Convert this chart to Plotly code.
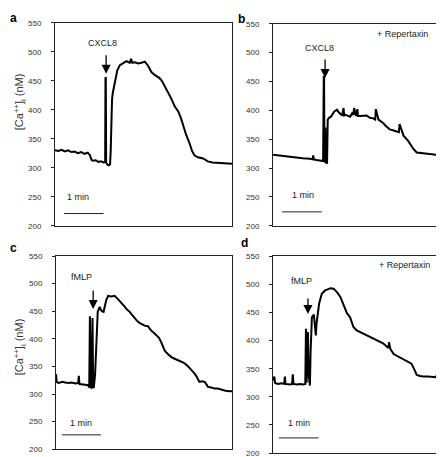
import plotly.graph_objects as go

# ---------------- data (time in s, [Ca++]i in nM) ----------------
a_time = [0, 5, 10, 15, 20, 25, 30, 35, 40, 45, 50, 53, 56, 58, 62, 66, 70, 74, 76.5, 77,
          77.5, 78, 80, 82, 84, 85, 86, 87, 88, 90, 92, 95, 99, 104, 109, 112, 114, 116, 118, 122,
          127, 132, 137, 142, 147, 152, 159, 163, 167, 172, 177, 183, 188, 192, 195, 200, 205, 209, 213, 218,
          226, 233, 240, 250, 260, 270]
a_ca = [330, 329, 331, 328, 330, 327, 328, 325, 327, 324, 326, 322, 313, 312, 313, 310, 311, 309, 310, 456,
        455, 309, 305, 304, 306, 330, 390, 417, 428, 440, 456, 468, 477, 481, 484, 482, 481, 488, 481, 482,
        480, 481, 483, 476, 465, 460, 455, 450, 442, 431, 420, 405, 397, 386, 374, 357, 343, 329, 321, 318,
        316, 311, 309, 308, 308, 307]

b_time = [0, 15, 30, 45, 56, 60, 61, 62, 66, 72, 76, 77, 77.5, 78, 79, 79.5, 80, 82, 83, 85,
          88, 93, 97, 100, 102, 105, 107, 108, 110, 114, 117, 120, 122, 123, 126, 128, 129, 132, 137, 142,
          147, 152, 155, 156, 160, 167, 172, 177, 183, 188, 191, 192, 198, 205, 213, 218, 228, 238, 248, 258,
          270]
b_ca = [323, 321, 318, 317, 316, 315, 322, 315, 314, 313, 312, 458, 458, 312, 311, 370, 310, 308, 384, 387,
        389, 398, 401, 396, 394, 391, 404, 391, 392, 390, 389, 395, 392, 404, 390, 402, 390, 390, 391, 391,
        387, 386, 384, 402, 384, 378, 372, 367, 365, 363, 362, 376, 356, 347, 333, 327, 326, 325, 323, 321,
        318]

c_time = [0, 1, 4, 10, 14, 20, 24, 30, 34, 35, 36, 39, 45, 49, 51, 52, 53, 54, 55, 56,
          57, 58, 60, 62, 64, 67, 69, 71, 73, 77, 80, 85, 90, 95, 100, 105, 109, 113, 117, 120,
          124, 128, 132, 136, 141, 146, 150, 154, 158, 161, 164, 167, 172, 177, 182, 187, 192, 197, 202, 208,
          212, 215, 218, 220, 224, 228, 231, 233, 238, 243, 248, 253, 260, 267, 270]
c_ca = [336, 322, 320, 322, 321, 320, 321, 319, 320, 333, 318, 318, 317, 316, 312, 441, 312, 310, 312, 438,
        313, 311, 336, 404, 449, 458, 452, 450, 449, 470, 478, 477, 478, 472, 466, 459, 453, 449, 443, 438,
        433, 429, 426, 424, 423, 415, 411, 407, 402, 395, 386, 378, 372, 367, 364, 361, 359, 356, 351, 344,
        338, 333, 326, 322, 323, 322, 317, 313, 312, 310, 310, 308, 306, 305, 305]

d_time = [0, 2, 3, 4, 8, 12, 17, 18, 19, 26, 29, 30, 31, 36, 41, 46, 49, 50, 51, 52,
          53, 54, 55, 56, 57, 59, 62, 64, 65, 66, 67, 70, 74, 79, 83, 87, 92, 97, 102, 107,
          112, 117, 122, 127, 132, 137, 142, 147, 152, 157, 162, 167, 172, 175, 176, 178, 183, 188, 193, 198,
          203, 210, 215, 218, 223, 228, 235, 243, 247, 249, 250, 251, 253, 258, 263, 266, 267, 270]
d_ca = [329, 336, 325, 324, 323, 324, 323, 336, 323, 322, 323, 340, 323, 322, 323, 322, 323, 421, 325, 398,
        415, 340, 322, 320, 380, 441, 446, 420, 409, 430, 438, 466, 483, 489, 491, 493, 492, 486, 478, 463,
        449, 441, 424, 418, 415, 412, 410, 407, 404, 401, 398, 395, 390, 387, 397, 385, 376, 373, 370, 367,
        364, 359, 347, 339, 337, 336, 336, 336, 335, 340, 328, 316, 334, 330, 332, 328, 335, 328]

panel_letters = ["a", "b", "c", "d"]
stimuli = ["CXCL8", "CXCL8", "fMLP", "fMLP"]
y_ticks = [200, 250, 300, 350, 400, 450, 500, 550]
scale_bar_len = 60  # 1 min

series = [(a_time, a_ca), (b_time, b_ca), (c_time, c_ca), (d_time, d_ca)]

# ---------------- layout geometry ----------------
W, H = 444, 457
# (left, right, top, bottom) in pixels
boxes = [(47, 224, 11, 218), (265, 443, 12, 218), (48, 224, 249, 446), (265, 443, 249, 450)]

fig = go.Figure()
FONT = "Liberation Sans, Arial, sans-serif"

layout = dict(width=W, height=H, margin=dict(l=0, r=0, t=0, b=0),
              paper_bgcolor="white", plot_bgcolor="white", showlegend=False,
              font=dict(family=FONT, color="#222"))
annotations = []

stim_pos = [(72, 515), (71, 508), (39, 512), (42.5, 506)]
arrow_tip = [(78, 462, -20), (79, 456, -20), (57, 454, -20), (53, 447, -17)]
min_text = [(35, 250), (45, 253), (39, 248), (39.5, 254)]
bar_start = [(14, 221), (14, 224), (9, 226), (9, 227)]
letter_pos = [(5, 6), (234, 7), (5, 241), (236, 236)]

for i, ((t, v), (l, r, tp, bt)) in enumerate(zip(series, boxes)):
    n = "" if i == 0 else str(i + 1)
    xa, ya = "x" + n, "y" + n
    fig.add_trace(go.Scatter(x=t, y=v, mode="lines", xaxis=xa, yaxis=ya,
                             line=dict(color="black", width=2)))
    bx, by = bar_start[i]
    fig.add_trace(go.Scatter(x=[bx, bx + scale_bar_len], y=[by, by], mode="lines",
                             xaxis=xa, yaxis=ya, line=dict(color="#222", width=1)))
    layout["xaxis" + n] = dict(domain=[l / W, r / W], range=[0, 270], anchor=ya,
                               showline=True, mirror=True, linecolor="#222", linewidth=1,
                               showticklabels=False, ticks="", showgrid=False, zeroline=False)
    layout["yaxis" + n] = dict(domain=[1 - bt / H, 1 - tp / H], range=[200, 550], anchor=xa,
                               showline=True, mirror=True, linecolor="#222", linewidth=1,
                               tickvals=y_ticks, ticks="outside", ticklen=3, tickwidth=1,
                               tickcolor="#222", tickfont=dict(size=8, color="#333"),
                               ticklabelstandoff=8, showgrid=False, zeroline=False)
    sx, sy = stim_pos[i]
    annotations.append(dict(x=sx, y=sy, xref=xa, yref=ya, text=stimuli[i], showarrow=False,
                            xanchor="center", yanchor="middle",
                            font=dict(size=9, color="#222")))
    axp, ayp, dl = arrow_tip[i]
    annotations.append(dict(x=axp, y=ayp, xref=xa, yref=ya, text="", showarrow=True,
                            ax=0, ay=dl, arrowhead=2, arrowsize=1.4, arrowwidth=1.3,
                            arrowcolor="black"))
    mx, my = min_text[i]
    annotations.append(dict(x=mx, y=my, xref=xa, yref=ya, text="1 min", showarrow=False,
                            xanchor="center", yanchor="middle",
                            font=dict(size=9, color="#222")))
    lx, ly = letter_pos[i]
    annotations.append(dict(x=lx / W, y=1 - ly / H, xref="paper", yref="paper",
                            xanchor="center", yanchor="middle",
                            text="<b>" + panel_letters[i] + "</b>", showarrow=False,
                            font=dict(size=12, color="black")))
    if i in (1, 3):
        annotations.append(dict(x=196 if i == 1 else 199, y=533 if i == 1 else 535,
                                xref=xa, yref=ya, text="+ Repertaxin", showarrow=False,
                                xanchor="center", yanchor="middle",
                                font=dict(size=9, color="#222")))
    if i in (0, 2):
        cy = 92 if i == 0 else 342
        annotations.append(dict(x=12 / W, y=1 - cy / H, xref="paper", yref="paper",
                                xanchor="center", yanchor="middle",
                                text="[Ca<sup>++</sup>]<sub>i</sub> (nM)", textangle=-90,
                                showarrow=False, font=dict(size=11, color="#333")))

layout["annotations"] = annotations
fig.update_layout(**layout)
fig.write_html("out.html")
